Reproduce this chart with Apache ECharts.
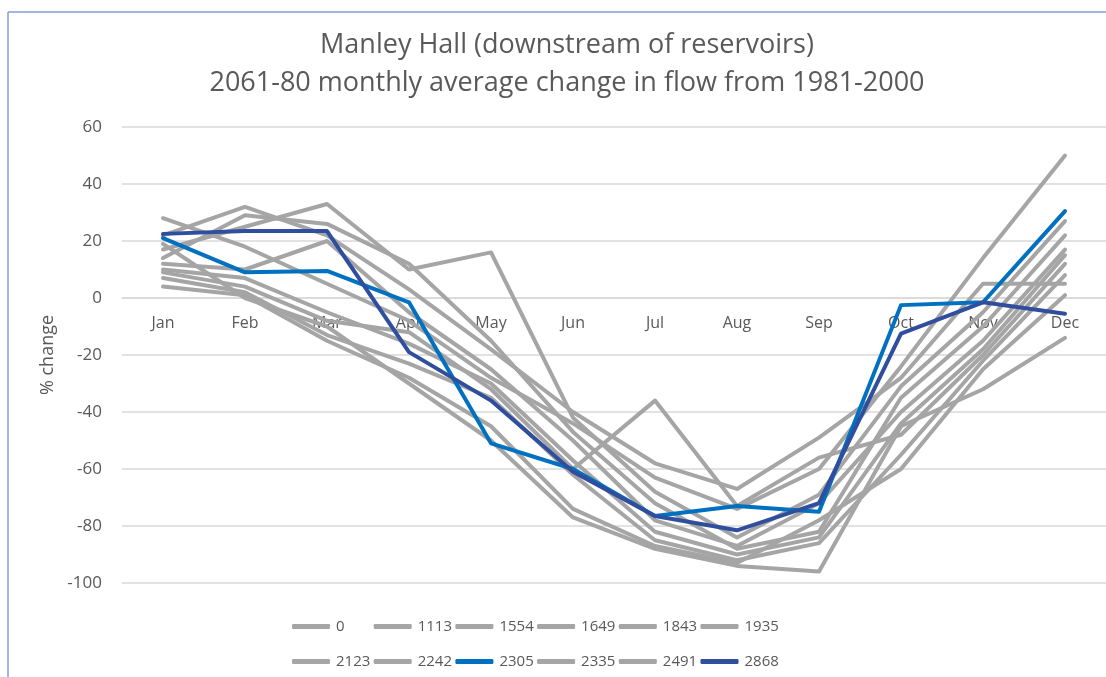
<!DOCTYPE html>
<html>
<head>
<meta charset="utf-8">
<script src="https://cdn.jsdelivr.net/npm/echarts@6/dist/echarts.min.js"></script>
<style>
html,body{margin:0;padding:0;background:#fff;}
#chart{width:1106px;height:677px;}
</style>
</head>
<body>
<div id="chart"></div>
<script>
var months = ['Jan','Feb','Mar','Apr','May','Jun','Jul','Aug','Sep','Oct','Nov','Dec'];
var yTicks = [-100,-80,-60,-40,-20,0,20,40,60];
var s0    = [28, 18, 5, -8, -28, -44, -63, -74, -60, -24, 14, 50];
var s1113 = [22, 32, 22, 3, -18, -40, -58, -67, -49, -28, 5, 5];
var s1554 = [17, 25, 33, 10, 16, -42, -68, -84, -69, -31, -5, 27];
var s1649 = [14, 29, 26, 12, -15, -47, -72, -88, -82, -35, -10, 22];
var s1843 = [12, 10, 20, -5, -25, -50, -78, -87, -72, -40, -15, 17];
var s1935 = [10, 7, -5, -16, -30, -57, -82, -90, -84, -44, -18, 15];
var s2123 = [9, 4, -8, -12, -32, -60, -36, -73, -56, -48, -20, 12];
var s2242 = [7, 2, -13, -23, -35, -62, -85, -92, -86, -55, -22, 8];
var s2305 = [21, 9, 9.5, -1.5, -51, -60, -76.5, -73, -75, -2.5, -1.5, 30.5];
var s2335 = [4, 1, -15, -28, -45, -74, -87, -93, -78, -60, -25, 1];
var s2491 = [19, 0, -10, -30, -50, -77, -88, -94, -96, -45, -32, -14];
var s2868 = [22.5, 23.5, 23.5, -19, -36, -61, -76.5, -81.5, -72, -12.5, -1.5, -5.5];

var seriesNames = ['0','1113','1554','1649','1843','1935','2123','2242','2305','2335','2491','2868'];
var seriesData = [s0,s1113,s1554,s1649,s1843,s1935,s2123,s2242,s2305,s2335,s2491,s2868];
var GRAY = '#a5a5a5', BLUE = '#0070c0', DARK = '#2f4e9e';
function colorOf(n){ return n==='2305'?BLUE:(n==='2868'?DARK:GRAY); }

var FONT = 'Open Sans';
var TXT = '#595959';

var legends = seriesNames.map(function(n,i){
  var col = i % 6, row = Math.floor(i / 6);
  return {data:[n], left:287 + col*81.7, top:614 + row*35, padding:5,
    itemWidth:38, itemHeight:5, icon:'roundRect',
    textStyle:{color:TXT, fontSize:15, fontFamily:FONT, padding:[0,0,0,1]}};
});

var chart = echarts.init(document.getElementById('chart'), null, {renderer:'canvas'});
var option = {
  animation:false,
  backgroundColor:'#fff',
  textStyle:{fontFamily:FONT},
  graphic:[
    {type:'line', shape:{x1:8,y1:12,x2:1106,y2:12}, style:{stroke:'#7f9fd8',lineWidth:1.5}, silent:true},
    {type:'line', shape:{x1:8,y1:12,x2:8,y2:677}, style:{stroke:'#7f9fd8',lineWidth:1.5}, silent:true},
    {type:'text', x:567, y:45, style:{text:'Manley Hall (downstream of reservoirs)', font:'27px "Open Sans"', fill:TXT, align:'center', verticalAlign:'middle'}},
    {type:'text', x:567, y:83, style:{text:'2061-80 monthly average change in flow from 1981-2000', font:'27px "Open Sans"', fill:TXT, align:'center', verticalAlign:'middle'}}
  ],
  grid:{left:122, right:0, top:127, bottom:94, containLabel:false},
  legend:legends,
  xAxis:{type:'category', data:months, boundaryGap:true, offset:-285,
    axisLine:{show:true, onZero:false, lineStyle:{color:'#d9d9d9', width:1.5}},
    axisTick:{show:false},
    axisLabel:{color:TXT, fontSize:16, margin:17, fontFamily:FONT},
    splitLine:{show:false}},
  yAxis:{type:'value', min:yTicks[0], max:yTicks[yTicks.length-1], interval:20,
    name:'% change', nameLocation:'middle', nameGap:63, nameRotate:90,
    nameTextStyle:{color:TXT, fontSize:18, fontFamily:FONT},
    axisLine:{show:false}, axisTick:{show:false},
    axisLabel:{color:TXT, fontSize:17, margin:20, fontFamily:FONT},
    splitLine:{lineStyle:{color:'#d9d9d9', width:1.5}}},
  series: seriesNames.map(function(n,i){
    var c = colorOf(n);
    return {name:n, type:'line', data:seriesData[i], symbol:'none', showSymbol:false,
      z: c===GRAY?2:3,
      itemStyle:{color:c}, lineStyle:{color:c, width:4, join:'round', cap:'round'}};
  })
};
chart.setOption(option);
</script>
</body>
</html>
